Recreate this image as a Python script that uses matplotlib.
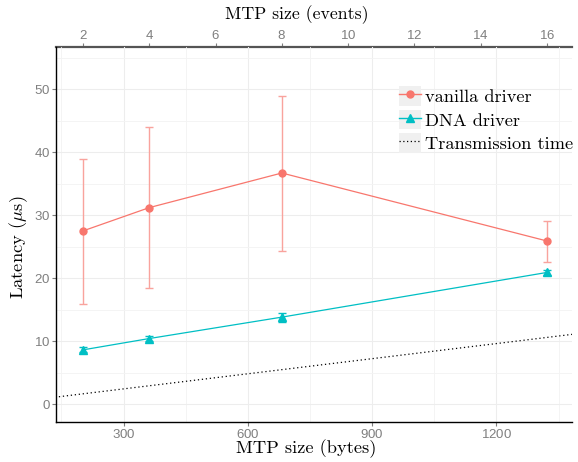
import matplotlib
matplotlib.use("Agg")
import matplotlib.pyplot as plt
from matplotlib.lines import Line2D
from matplotlib.patches import Rectangle
from matplotlib.ticker import MultipleLocator
from matplotlib import font_manager

# ---- data ----
mtp_bytes = [202, 362, 682, 1322]
mtp_events = [2, 4, 8, 16]
vanilla_mean = [27.5, 31.2, 36.7, 25.9]
vanilla_low = [15.9, 18.4, 24.3, 22.6]
vanilla_high = [39.0, 44.0, 49.0, 29.0]
dna_mean = [8.6, 10.4, 13.8, 20.9]
dna_low = [8.2, 10.0, 13.0, 20.5]
dna_high = [9.0, 10.8, 14.5, 21.3]
trans_bytes = [0, 1500]
trans_time = [0.0, 12.0]
header_bytes = 42
bytes_per_event = 80
x_ticks = [300, 600, 900, 1200]
y_ticks = [0, 10, 20, 30, 40, 50]
top_ticks = [2, 4, 6, 8, 10, 12, 14, 16]

RED = "#F8766D"
TEAL = "#00BFC4"
GRID = "#ededed"
TICKC = "#7f7f7f"

names = {f.name for f in font_manager.fontManager.ttflist}
tick_font = "Liberation Sans Narrow" if "Liberation Sans Narrow" in names else "Liberation Sans"
serif = "cmr10"
plt.rcParams["mathtext.fontset"] = "cm"
plt.rcParams["axes.formatter.use_mathtext"] = True

W, H = 578, 462
fig = plt.figure(figsize=(W / 100, H / 100), dpi=100)
ax = fig.add_axes([0.097, 0.0866, 0.893, 0.8114])

# grid
ax.set_xlim(137, 1383)
ax.set_ylim(-2.86, 56.7)
ax.xaxis.set_major_locator(MultipleLocator(300))
ax.xaxis.set_minor_locator(MultipleLocator(150))
ax.yaxis.set_major_locator(MultipleLocator(10))
ax.yaxis.set_minor_locator(MultipleLocator(5))
ax.grid(which="major", color=GRID, lw=0.8, zorder=0)
ax.grid(which="minor", color="#f3f3f3", lw=0.6, zorder=0)
ax.set_axisbelow(True)

# transmission
ax.plot(trans_bytes, trans_time, ls=(0, (1, 2.2)), color="black", lw=0.9, zorder=2)

# vanilla
v_err = [[m - l for m, l in zip(vanilla_mean, vanilla_low)],
         [h - m for m, h in zip(vanilla_mean, vanilla_high)]]
ax.errorbar(mtp_bytes, vanilla_mean, yerr=v_err, fmt="none", ecolor="#f9a39d",
            elinewidth=1.0, capsize=3.0, capthick=1.0, zorder=3)
ax.plot(mtp_bytes, vanilla_mean, color=RED, lw=0.9, marker="o", ms=5, zorder=4)

# DNA
d_err = [[m - l for m, l in zip(dna_mean, dna_low)],
         [h - m for m, h in zip(dna_mean, dna_high)]]
ax.errorbar(mtp_bytes, dna_mean, yerr=d_err, fmt="none", ecolor=TEAL,
            elinewidth=1.0, capsize=3.0, capthick=1.0, zorder=3)
ax.plot(mtp_bytes, dna_mean, color=TEAL, lw=0.9, marker="^", ms=5.5, zorder=4)

# axes styling
ax.spines["right"].set_visible(False)
ax.spines["top"].set_visible(False)
ax.spines["left"].set_color("black")
ax.spines["left"].set_linewidth(1.0)
ax.spines["bottom"].set_color("black")
ax.spines["bottom"].set_linewidth(1.0)

ax.set_xticks(x_ticks)
ax.set_yticks(y_ticks)
ax.tick_params(which="both", direction="out", colors=TICKC, labelsize=9.5, length=3, width=0.8)
ax.tick_params(which="minor", length=0)
for lab in ax.get_xticklabels() + ax.get_yticklabels():
    lab.set_fontfamily(tick_font)
    lab.set_color(TICKC)
ax.tick_params(axis="x", pad=1)
ax.tick_params(axis="y", pad=1)

def b2e(b):
    return (b - header_bytes) / bytes_per_event

def e2b(e):
    return e * bytes_per_event + header_bytes

sec = ax.secondary_xaxis("top", functions=(b2e, e2b))
sec.set_xticks(top_ticks)
sec.spines["top"].set_color("#555555")
sec.spines["top"].set_linewidth(1.6)
sec.tick_params(direction="out", colors=TICKC, labelsize=9.5, length=3, width=0.8, pad=1)
for lab in sec.get_xticklabels():
    lab.set_fontfamily(tick_font)
    lab.set_color(TICKC)

# axis titles
fig.text(306 / W, 1 - 449 / H, "MTP size (bytes)", fontfamily=serif, fontsize=13.3,
         ha="center", va="center")
fig.text(297 / W, 1 - 15 / H, "MTP size (events)", fontfamily=serif, fontsize=12.8,
         ha="center", va="center")
fig.text(19 / W, 1 - 247 / H, r"Latency ($\mu$s)", fontfamily=serif, fontsize=13.3,
         ha="center", va="center", rotation=90)

# legend
def key(line):
    bg = Rectangle((0, 0), 1, 1, facecolor="#f0f0f0", edgecolor="none")
    return (bg, line)

h1 = Line2D([], [], color=RED, lw=1.0, marker="o", ms=5)
h2 = Line2D([], [], color=TEAL, lw=1.0, marker="^", ms=5.5)
h3 = Line2D([], [], color="black", lw=0.9, ls=(0, (1, 2)))
leg = ax.legend([key(h1), key(h2), key(h3)],
                ["vanilla driver", "DNA driver", "Transmission time"],
                loc="upper left", bbox_to_anchor=(0.665, 0.895), frameon=False,
                prop={"family": serif, "size": 13.2}, handlelength=1.2, handleheight=1.25,
                labelspacing=0.22, handletextpad=0.2, borderaxespad=0, borderpad=0)

fig.savefig("out.png", dpi=100)
